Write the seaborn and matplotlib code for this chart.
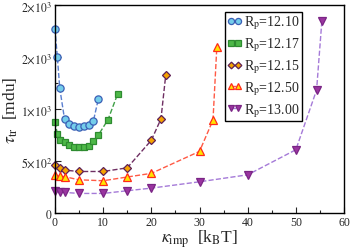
import numpy as np
import pandas as pd
import matplotlib
matplotlib.use('Agg')
import matplotlib.pyplot as plt
from matplotlib.ticker import MultipleLocator, FixedLocator, FixedFormatter
import seaborn as sns

# data
k_1210 = [0, 0.5, 1, 2, 3, 4, 5, 6, 7, 8, 9]
t_1210 = [1770, 1500, 1200, 900, 856, 833, 830, 833, 850, 890, 1096]

k_1217 = [0, 0.5, 1, 2, 3, 4, 5, 6, 7, 8, 9, 11, 13]
t_1217 = [878, 760, 705, 680, 654, 640, 638, 638, 647, 690, 750, 897, 1144]

k_1215 = [0, 1, 2, 5, 10, 15, 20, 22, 23]
t_1215 = [460, 430, 413, 400, 400, 435, 700, 905, 1330]

k_1250 = [0, 1, 2, 5, 10, 15, 20, 30, 32.8, 33.6]
t_1250 = [365, 352, 350, 320, 311, 347, 382, 593, 894, 1599]

k_1300 = [0, 1, 2, 5, 10, 15, 20, 30, 40, 50, 54.3, 55.4]
t_1300 = [215, 205, 199, 189, 189, 215, 240, 301, 368, 609, 1183, 1849]

labels = ['12.10', '12.17', '12.15', '12.50', '13.00']
ytick_vals = [0, 500, 1000, 1500, 2000]
ytick_txt = [r'$0$', r'$5{\times}10^{2}$', r'$1{\times}10^{3}$', r'$2{\times}10^{3}$', r'$2{\times}10^{3}$']

series = [(k_1210, t_1210), (k_1217, t_1217), (k_1215, t_1215), (k_1250, t_1250), (k_1300, t_1300)]
styles = [
    dict(marker='o', mfc='#74CDEA', mec='#3A5FB5', color='#5A7FD0', ms=5.2),
    dict(marker='s', mfc='#4DB848', mec='#2E8B30', color='#3FA046', ms=4.8),
    dict(marker='D', mfc='#F5A300', mec='#5E1F55', color='#6E2E62', ms=4.0),
    dict(marker='^', mfc='#FFE400', mec='#FF2A1A', color='#FF5A45', ms=5.2),
    dict(marker='v', mfc='#9A35A0', mec='#7A2585', color='#A57AD8', ms=5.2),
]

sns.set_theme(style='ticks')
plt.rcParams['font.family'] = ['Liberation Serif', 'DejaVu Serif']
plt.rcParams['mathtext.fontset'] = 'stix'

fig = plt.figure(figsize=(3.5, 2.51), dpi=100)
ax = fig.add_axes([0.157, 0.147, 0.826, 0.829])

for (kx, ty), lab, st in zip(series, labels, styles):
    df = pd.DataFrame({'k': kx, 't': ty})
    sns.lineplot(data=df, x='k', y='t', ax=ax, sort=False, linestyle='--', lw=1.0,
                 color=st['color'], marker=st['marker'], markersize=st['ms'],
                 markerfacecolor=st['mfc'], markeredgecolor=st['mec'], markeredgewidth=0.9,
                 label=r'R$_\mathrm{p}$=' + lab, clip_on=False)

ax.set_xlim(0, 60)
ax.set_ylim(0, 2000)
ax.xaxis.set_major_locator(MultipleLocator(10))
ax.xaxis.set_minor_locator(MultipleLocator(5))
ax.yaxis.set_major_locator(FixedLocator(ytick_vals))
ax.yaxis.set_major_formatter(FixedFormatter(ytick_txt))
ax.yaxis.set_minor_locator(MultipleLocator(250))
ax.tick_params(which='both', direction='in', top=False, right=False, labelsize=8.5, pad=2)
ax.tick_params(which='major', length=4, width=0.8)
ax.tick_params(which='minor', length=2.5, width=0.8)
for s in ax.spines.values():
    s.set_linewidth(1.0)
    s.set_color('black')

ax.set_xlabel(r'$\kappa_{\mathrm{imp}}$  [k$_\mathrm{B}$T]', fontsize=12.5, labelpad=0)
ax.set_ylabel(r'$\tau_{\mathrm{tr}}$  [mdu]', fontsize=12.5, labelpad=1)

leg = ax.legend(loc='upper left', bbox_to_anchor=(0.588, 0.968), fontsize=10, numpoints=2,
                handlelength=1.1, handletextpad=0.15, labelspacing=0.3, borderpad=0.15,
                markerscale=0.85, fancybox=False, framealpha=1, edgecolor='black',
                borderaxespad=0)
leg.get_frame().set_linewidth(1.0)

fig.savefig('out.png', dpi=100)
